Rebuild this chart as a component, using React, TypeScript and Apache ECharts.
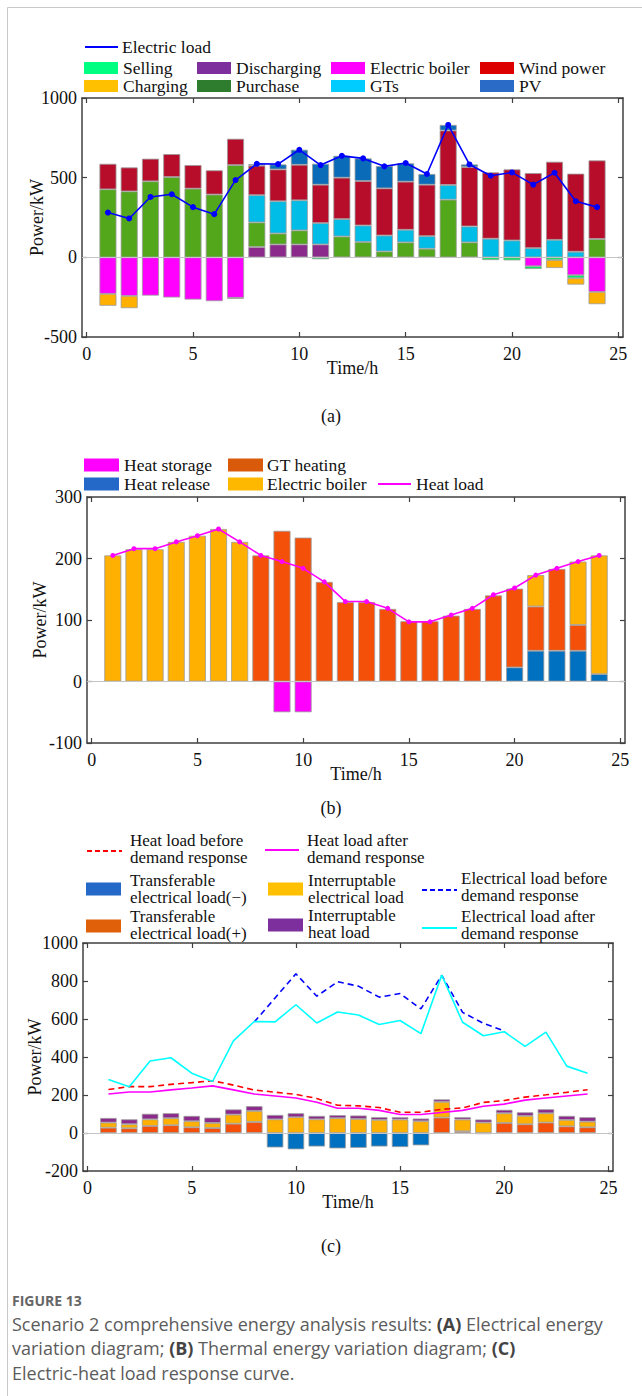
import React, { useEffect, useRef } from "react";
import * as echarts from "echarts";

const SERIF = "'Liberation Serif', 'Times New Roman', serif";
const SANS = "'Open Sans', 'Noto Sans', sans-serif";

// ---------- shared ----------
const hours = [1, 2, 3, 4, 5, 6, 7, 8, 9, 10, 11, 12, 13, 14, 15, 16, 17, 18, 19, 20, 21, 22, 23, 24];
const xTicks = [0, 5, 10, 15, 20, 25];

// ---------- panel (a): electrical energy ----------
const discharging = [0, 0, 0, 0, 0, 0, 0, 65, 81, 81, 81, 0, 0, 0, 0, 0, 0, 0, 0, 0, 0, 0, 0, 0];
const purchase = [427, 414, 477, 504, 431, 394, 579, 154, 69, 88, 0, 131, 96, 37, 94, 54, 362, 94, 0, 0, 0, 0, 0, 115];
const gts = [0, 0, 0, 0, 0, 0, 0, 171, 202, 189, 134, 109, 104, 100, 79, 79, 92, 100, 117, 106, 58, 110, 35, 0];
const windPower = [160, 150, 142, 144, 148, 152, 165, 185, 200, 223, 241, 260, 279, 296, 302, 323, 342, 373, 416, 446, 471, 490, 490, 493];
const pv = [0, 0, 0, 0, 0, 0, 0, 10, 31, 94, 131, 137, 142, 140, 115, 67, 35, 16, 0, 0, 0, 0, 0, 0];
const electricBoilerA = [-229, -242, -240, -252, -265, -275, -254, 0, 0, 0, 0, 0, 0, 0, 0, 0, 0, 0, 0, 0, -56, 0, -112, -217];
const selling = [0, 0, 0, 0, 0, 0, 0, 0, 0, 0, -12, 0, 0, 0, 0, 0, 0, 0, -17, -19, -17, -17, -19, 0];
const charging = [-75, -77, 0, 0, 0, 0, -6, 0, 0, 0, 0, 0, 0, 0, 0, 0, 0, 0, 0, 0, 0, -50, -40, -77];
const electricLoad = [281, 244, 379, 396, 315, 271, 485, 587, 585, 675, 579, 637, 621, 571, 592, 523, 831, 583, 512, 533, 456, 531, 352, 315];

// ---------- panel (b): thermal energy ----------
const heatRelease = [0, 0, 0, 0, 0, 0, 0, 0, 0, 0, 0, 0, 0, 0, 0, 0, 0, 0, 0, 23, 50, 50, 50, 12];
const gtHeating = [0, 0, 0, 0, 0, 0, 0, 205, 245, 234, 162, 129, 129, 118, 98, 98, 107, 118, 140, 128, 72, 133, 42, 0];
const electricBoilerB = [205, 215, 215, 227, 237, 248, 227, 0, 0, 0, 0, 0, 0, 0, 0, 0, 0, 0, 0, 0, 51, 0, 103, 193];
const heatStorage = [0, 0, 0, 0, 0, 0, 0, 0, -50, -50, 0, 0, 0, 0, 0, 0, 0, 0, 0, 0, 0, 0, 0, 0];
const heatLoad = [205, 216, 216, 227, 237, 248, 227, 205, 195, 184, 162, 130, 130, 119, 97, 97, 108, 119, 141, 152, 173, 184, 195, 205];

// ---------- panel (c): demand response ----------
const transferMinus = [0, 0, 0, 0, 0, 0, 0, 0, -76, -86, -71, -81, -78, -71, -74, -65, 0, 0, -6, 0, 0, 0, 0, 0];
const transferPlus = [28, 25, 37, 41, 30, 26, 49, 58, 0, 0, 0, 0, 0, 0, 0, 0, 81, 9, 0, 53, 46, 55, 35, 30];
const interruptElec = [27, 21, 35, 37, 32, 27, 48, 58, 72, 83, 72, 78, 74, 69, 71, 62, 83, 62, 55, 51, 44, 49, 34, 30];
const interruptHeat = [24, 26, 29, 26, 28, 28, 27, 25, 23, 21, 18, 16, 18, 14, 12, 14, 13, 12, 16, 18, 19, 21, 21, 23];
const elecBefore: (number | null)[] = [null, null, null, null, null, null, null, 584, 711, 838, 720, 796, 773, 715, 734, 653, 830, 635, 577, 538, null, null, null, null];
const heatBefore = [229, 244, 244, 256, 265, 275, 252, 226, 215, 203, 182, 146, 143, 134, 109, 109, 125, 132, 161, 171, 189, 201, 214, 228];

// ---------- layout ----------
const grids = [
  { left: 82, top: 98, width: 541, height: 239, yMin: -500, yMax: 1000, yStep: 500, yNameGap: 36 },
  { left: 87, top: 497, width: 538, height: 246, yMin: -100, yMax: 300, yStep: 100, yNameGap: 38 },
  { left: 83, top: 943, width: 530, height: 228, yMin: -200, yMax: 1000, yStep: 200, yNameGap: 39 },
];

const AX = "#404040";
const tickFont = { fontSize: 18, fontFamily: SERIF, color: "#111" };
const nameFont = { fontSize: 18, fontFamily: SERIF, color: "#111" };

function buildAxes() {
  const xAxis: any[] = [];
  const yAxis: any[] = [];
  grids.forEach((g, i) => {
    const baseX = {
      type: "value",
      gridIndex: i,
      min: -0.22,
      max: 25.22,
      axisLine: { show: true, onZero: false, lineStyle: { color: AX, width: 1.5 } },
      axisTick: { show: true, inside: true, length: 5, customValues: xTicks, lineStyle: { color: AX, width: 1.2 } },
      splitLine: { show: false },
    };
    xAxis.push({
      ...baseX,
      position: "bottom",
      axisLabel: { show: true, customValues: xTicks, ...tickFont, margin: 8, formatter: (v: number) => String(v) },
      name: "Time/h",
      nameLocation: "middle",
      nameGap: 22,
      nameMoveOverlap: false,
      nameTextStyle: { ...nameFont },
    });
    xAxis.push({ ...baseX, position: "top", axisLabel: { show: false } });
    const baseY = {
      type: "value",
      gridIndex: i,
      min: g.yMin,
      max: g.yMax,
      interval: g.yStep,
      axisLine: { show: true, onZero: false, lineStyle: { color: AX, width: 1.5 } },
      axisTick: { show: true, inside: true, length: 5, lineStyle: { color: AX, width: 1.2 } },
      splitLine: { show: false },
    };
    yAxis.push({
      ...baseY,
      position: "left",
      axisLabel: { show: true, ...tickFont, margin: 5, formatter: (v: number) => String(v) },
      name: "Power/kW",
      nameLocation: "middle",
      nameGap: g.yNameGap,
      nameMoveOverlap: false,
      nameTextStyle: { ...nameFont },
    });
    yAxis.push({ ...baseY, position: "right", axisLabel: { show: false } });
  });
  return { xAxis, yAxis };
}

// bars: value column first so the stack runs along the y (value) dimension
function bar(name: string, arr: number[], color: string, g: number, width: number, zeroLine = false) {
  const s: any = {
    type: "bar",
    name,
    xAxisIndex: 2 * g,
    yAxisIndex: 2 * g,
    stack: "s" + g,
    stackStrategy: "samesign",
    barWidth: width,
    encode: { x: 1, y: 0 },
    data: hours.map((h, i) => [arr[i] === 0 ? null : arr[i], h]),
    itemStyle: { color, borderColor: "#9c9c9c", borderWidth: 0.8 },
    emphasis: { disabled: true },
  };
  if (zeroLine) {
    s.markLine = {
      silent: true,
      symbol: "none",
      label: { show: false },
      lineStyle: { color: "#c4c4c4", width: 1, type: "solid" },
      data: [{ yAxis: 0 }],
    };
  }
  return s;
}

function line(name: string, arr: (number | null)[], color: string, g: number, opts: any = {}) {
  return {
    type: "line",
    name,
    xAxisIndex: 2 * g,
    yAxisIndex: 2 * g,
    data: hours.map((h, i) => [h, arr[i]]),
    symbol: opts.symbol || "none",
    symbolSize: opts.symbolSize || 0,
    lineStyle: { color, width: 1.6, type: opts.dash || "solid" },
    itemStyle: { color },
    z: 5,
    emphasis: { disabled: true },
  };
}

// ---------- graphic helpers (legends, labels, caption) ----------
const swatch = (x: number, y: number, w: number, h: number, color: string) => ({
  type: "rect",
  silent: true,
  shape: { x, y: y - h / 2, width: w, height: h },
  style: { fill: color },
});
const lineSwatch = (x: number, y: number, w: number, color: string, dash?: number[]) => ({
  type: "line",
  silent: true,
  shape: { x1: x, y1: y, x2: x + w, y2: y },
  style: { stroke: color, lineWidth: 2, lineDash: dash || null },
});
const label = (x: number, y: number, text: string, size = 17.5, lh = 17.5) => ({
  type: "text",
  silent: true,
  x,
  y,
  style: { text, fontSize: size, fontFamily: SERIF, fill: "#111", verticalAlign: "middle", lineHeight: lh },
});

function buildGraphic() {
  const g: any[] = [];
  // frame
  g.push({ type: "line", silent: true, shape: { x1: 7.5, y1: 7.5, x2: 7.5, y2: 1396 }, style: { stroke: "#c8c8c8", lineWidth: 1 } });
  g.push({ type: "line", silent: true, shape: { x1: 7.5, y1: 7.5, x2: 642, y2: 7.5 }, style: { stroke: "#c8c8c8", lineWidth: 1 } });

  // legend (a)
  g.push(lineSwatch(85, 47, 33, "#0000FF"));
  g.push(label(122, 47, "Electric load"));
  const colX = [84, 197, 331, 480];
  const rowA = [
    [["Selling", "#00FF80"], ["Discharging", "#7E2F9E"], ["Electric boiler", "#FF00FF"], ["Wind power", "#DD0000"]],
    [["Charging", "#FFC000"], ["Purchase", "#2E7D2E"], ["GTs", "#00CCFF"], ["PV", "#2A6BC8"]],
  ];
  [68, 86].forEach((y, r) => {
    rowA[r].forEach((it, c) => {
      g.push(swatch(colX[c], y, 34, 12, it[1]));
      g.push(label(colX[c] + 39, y, it[0]));
    });
  });

  // legend (b)
  g.push(swatch(84, 465, 35, 13, "#FF00FF"));
  g.push(label(124, 465, "Heat storage"));
  g.push(swatch(84, 484, 35, 13, "#2468C8"));
  g.push(label(124, 484, "Heat release"));
  g.push(swatch(228, 465, 35, 13, "#D95A0A"));
  g.push(label(267, 465, "GT heating"));
  g.push(swatch(228, 484, 35, 13, "#FFB800"));
  g.push(label(267, 484, "Electric boiler"));
  g.push(lineSwatch(378, 484, 33, "#FF00FF"));
  g.push(label(416, 484, "Heat load"));

  // legend (c) — two-line labels
  const F = 17;
  const L = 17;
  g.push(lineSwatch(87, 851, 35, "#FF0000", [5, 3]));
  g.push(label(130, 849, "Heat load before\ndemand response", F, L));
  g.push(lineSwatch(265, 850, 34, "#FF00FF"));
  g.push(label(307, 849, "Heat load after\ndemand response", F, L));
  g.push(swatch(86, 889, 35, 13, "#2468C8"));
  g.push(label(130, 888.5, "Transferable\nelectrical load(\u2212)", F, L));
  g.push(swatch(268, 889, 35, 13, "#FFC000"));
  g.push(label(308, 888.5, "Interruptable\nelectrical load", F, L));
  g.push(lineSwatch(422, 890, 35, "#0000FF", [5, 3]));
  g.push(label(461, 887, "Electrical load before\ndemand response", F, L));
  g.push(swatch(86, 926, 35, 13, "#E0600A"));
  g.push(label(130, 925, "Transferable\nelectrical load(+)", F, L));
  g.push(swatch(268, 925, 35, 13, "#7E2F9E"));
  g.push(label(308, 923.5, "Interruptable\nheat load", F, L));
  g.push(lineSwatch(422, 928, 35, "#00FFFF"));
  g.push(label(461, 925, "Electrical load after\ndemand response", F, L));

  // panel labels
  [["(a)", 416], ["(b)", 808], ["(c)", 1246]].forEach(([t, y]) => {
    g.push({
      type: "text",
      silent: true,
      x: 331,
      y,
      style: { text: t, fontSize: 18, fontFamily: SERIF, fill: "#111", align: "center", verticalAlign: "middle" },
    });
  });

  // caption
  g.push({
    type: "text",
    silent: true,
    x: 12,
    y: 1300,
    style: { text: "FIGURE 13", fontSize: 14, fontWeight: "bold", fontFamily: SANS, fill: "#666", verticalAlign: "middle" },
  });
  const rich = {
    n: { fontSize: 18, lineHeight: 20, fontFamily: SANS, fill: "#5c5c5c" },
    b: { fontSize: 18, lineHeight: 20, fontFamily: SANS, fill: "#444", fontWeight: "bold" },
  };
  const capLines = [
    "{n|Scenario 2 comprehensive energy analysis results: }{b|(A)}{n| Electrical energy}",
    "{n|variation diagram; }{b|(B)}{n| Thermal energy variation diagram; }{b|(C)}",
    "{n|Electric-heat load response curve.}",
  ];
  [1323.5, 1348.3, 1373.1].forEach((y, i) => {
    g.push({ type: "text", silent: true, x: 12, y, style: { text: capLines[i], rich, verticalAlign: "middle" } });
  });
  return g;
}

export default function App() {
  const ref = useRef<HTMLDivElement>(null);
  useEffect(() => {
    if (!ref.current) return;
    const chart = echarts.init(ref.current, null, { renderer: "svg" });
    const { xAxis, yAxis } = buildAxes();
    const series: any[] = [
      // (a) positive stack bottom-up, then negative
      bar("Discharging", discharging, "#8C2A8C", 0, 17, true),
      bar("Purchase", purchase, "#52A71A", 0, 17),
      bar("GTs", gts, "#00BDE8", 0, 17),
      bar("Wind power", windPower, "#B80D2A", 0, 17),
      bar("PV", pv, "#0A6BB8", 0, 17),
      bar("Electric boiler", electricBoilerA, "#FF00FF", 0, 17),
      bar("Selling", selling, "#00F060", 0, 17),
      bar("Charging", charging, "#FFB000", 0, 17),
      line("Electric load", electricLoad, "#0000FF", 0, { symbol: "circle", symbolSize: 6 }),
      // (b)
      bar("Heat release", heatRelease, "#0070C0", 1, 17, true),
      bar("GT heating", gtHeating, "#F5500A", 1, 17),
      bar("Electric boiler (heat)", electricBoilerB, "#FFB000", 1, 17),
      bar("Heat storage", heatStorage, "#FF00FF", 1, 17),
      line("Heat load", heatLoad, "#FF00FF", 1, { symbol: "circle", symbolSize: 5 }),
      // (c)
      bar("Transferable electrical load(+)", transferPlus, "#F4500A", 2, 16.5, true),
      bar("Interruptable electrical load", interruptElec, "#FFB000", 2, 16.5),
      bar("Interruptable heat load", interruptHeat, "#8C2A8C", 2, 16.5),
      bar("Transferable electrical load(\u2212)", transferMinus, "#0070C0", 2, 16.5),
      line("Electrical load before demand response", elecBefore, "#0000FF", 2, { dash: [6, 4] }),
      line("Heat load before demand response", heatBefore, "#FF0000", 2, { dash: [6, 4] }),
      line("Heat load after demand response", heatLoad, "#FF00FF", 2),
      line("Electrical load after demand response", electricLoad, "#00FFFF", 2),
    ];
    chart.setOption({
      animation: false,
      backgroundColor: "#fff",
      textStyle: { fontFamily: SERIF },
      grid: grids.map((g) => ({ left: g.left, top: g.top, width: g.width, height: g.height, outerBoundsMode: "none" })),
      xAxis,
      yAxis,
      series,
      graphic: buildGraphic(),
    });
    return () => chart.dispose();
  }, []);
  return <div ref={ref} style={{ position: "absolute", left: 0, top: 0, width: 642, height: 1396, background: "#fff" }} />;
}
